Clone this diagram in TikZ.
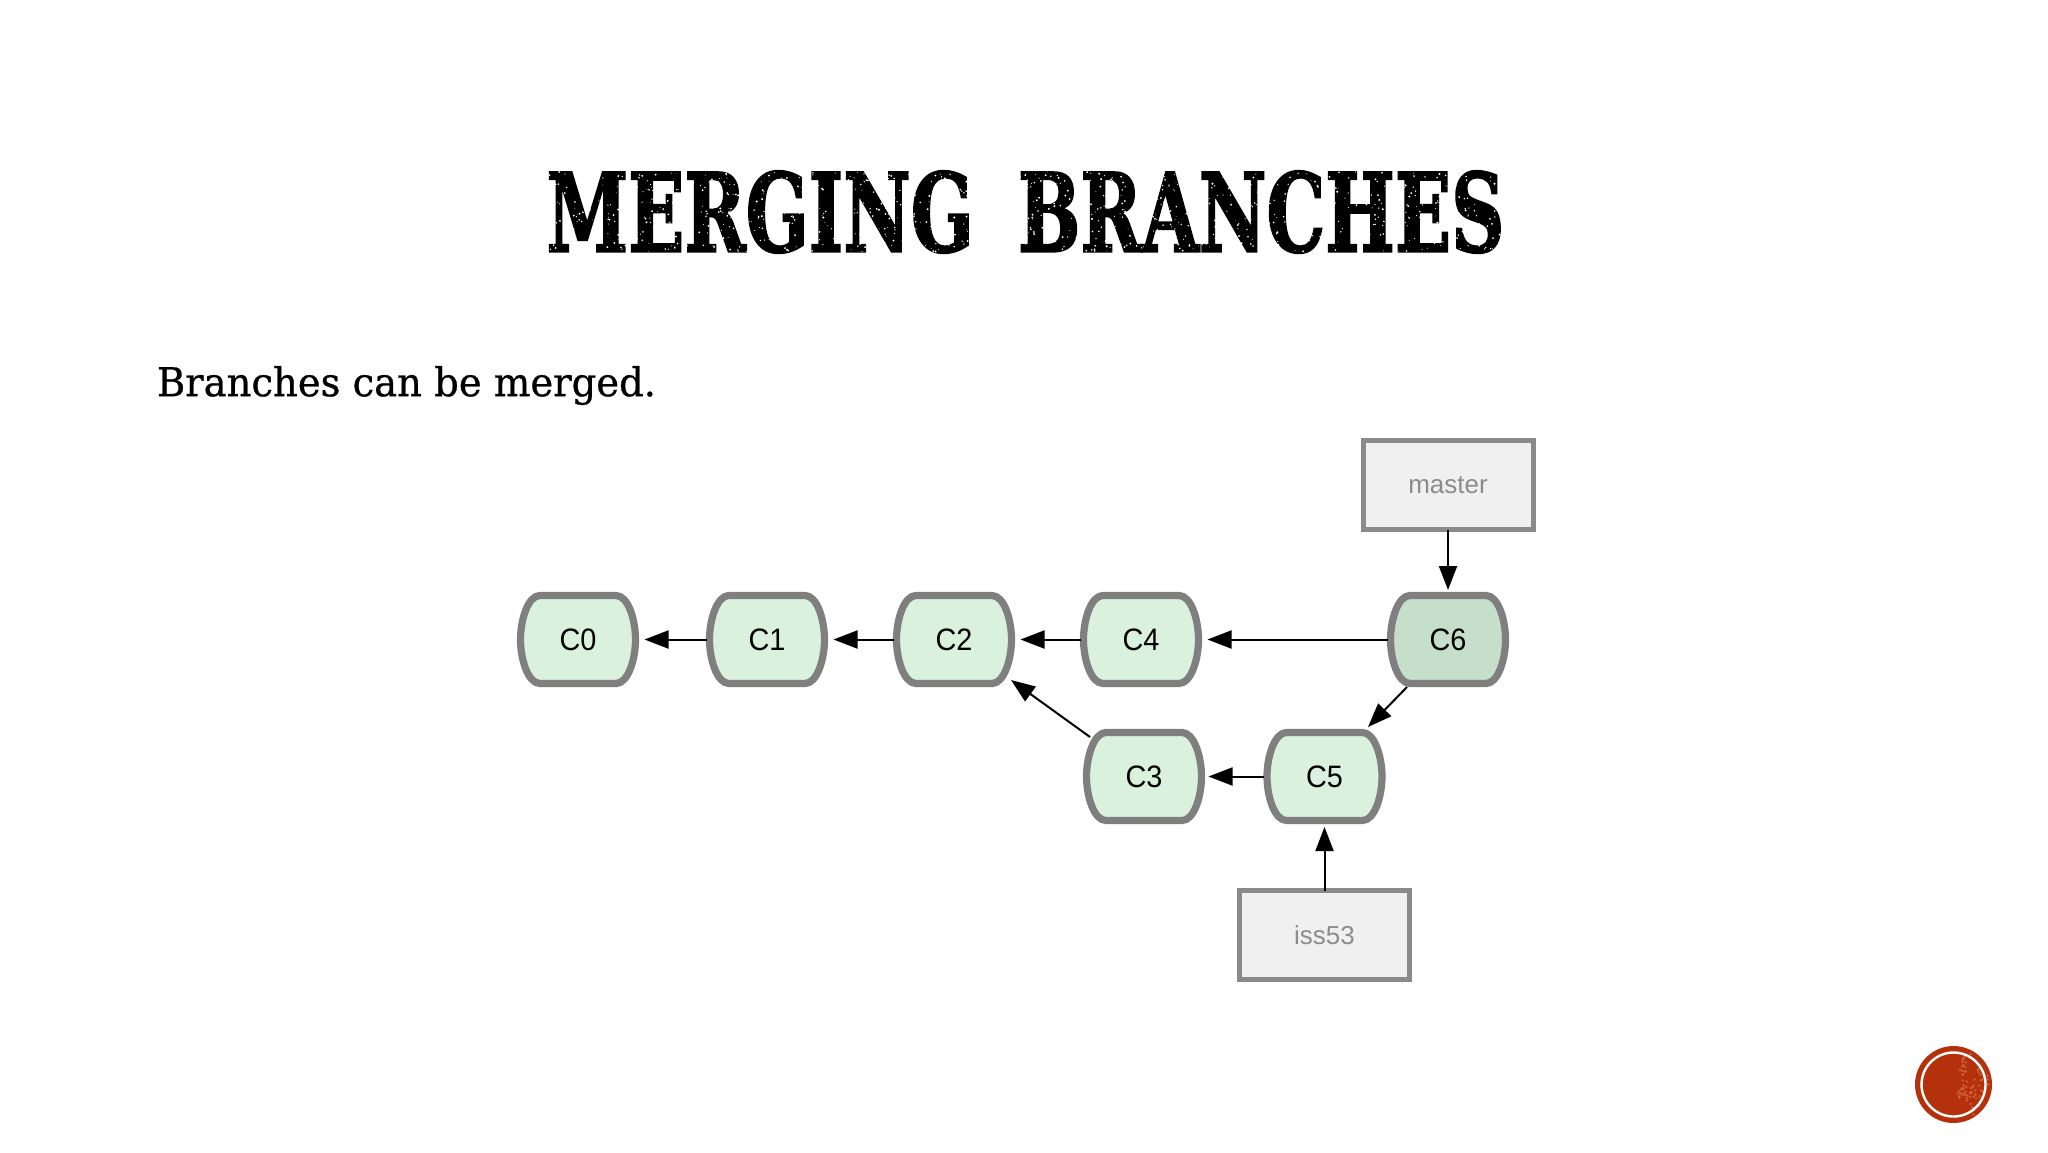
\documentclass[tikz,border=0pt]{standalone}
\usepackage{fontspec}
\setmainfont{Liberation Sans}
\newfontfamily\titlefont[FakeBold=2.2]{DejaVu Serif Bold}
\newfontfamily\bodyfont[FakeBold=0.7]{DejaVu Serif}
\usetikzlibrary{arrows.meta,calc}
\definecolor{edgegray}{HTML}{7F7F7F}
\definecolor{commitfill}{HTML}{DAF2DD}
\definecolor{mergefill}{HTML}{C5DFCB}
\definecolor{boxfill}{HTML}{F0F0F0}
\definecolor{boxedge}{HTML}{8A8A8A}
\definecolor{boxtext}{HTML}{8C8C8C}
\definecolor{badgered}{HTML}{B5310C}
\definecolor{badgespeck}{HTML}{CF6238}
\tikzset{
  barrel/.style={draw=edgegray,line width=3.6pt,line join=round},
  commitlabel/.style={inner sep=0pt,outer sep=0pt,minimum width=60.5pt,minimum height=47.5pt,text=black,font=\fontsize{15.5}{18}\selectfont},
  branchbox/.style={rectangle,draw=boxedge,fill=boxfill,line width=2.5pt,inner sep=0pt,outer sep=0pt,minimum width=85pt,minimum height=44.5pt,text=boxtext,font=\fontsize{13}{16}\selectfont},
  link/.style={draw=black,line width=1pt,-{Triangle[length=12pt,width=9pt]}},
}
\newcommand\commitnode[5]{%
  \path[barrel,fill=#4,shift={(#2,#3)}] (-38,-44) -- (38,-44)
    .. controls (50,-44) and (57.5,-20) .. (57.5,0)
    .. controls (57.5,20) and (50,44) .. (38,44) -- (-38,44)
    .. controls (-50,44) and (-57.5,20) .. (-57.5,0)
    .. controls (-57.5,-20) and (-50,-44) .. (-38,-44) -- cycle;
  \node[commitlabel] (#1) at (#2,#3) {\scalebox{.93}[1]{#5}};
}
\begin{document}
\begin{tikzpicture}[x=0.5pt,y=-0.5pt]
\useasboundingbox[fill=white] (0,0) rectangle (2048,1152);
% title
\node[inner sep=0pt] (title) at (1025.5,212) {\resizebox*{479pt}{41pt}{\titlefont MERGING\hspace{.6em}BRANCHES}};
\pgfmathsetseed{4217}
\foreach \i in {1,...,1300}{
  \pgfmathsetmacro{\sx}{547+958*rnd}
  \pgfmathsetmacro{\sy}{172+80*rnd}
  \pgfmathsetmacro{\sr}{0.4+0.7*rnd}
  \fill[white] (\sx,\sy) circle[radius=\sr];
}
% body text
\node[inner sep=0pt] (body) at (406.5,385.5) {\resizebox*{249.5pt}{19.5pt}{\bodyfont Branches can be merged.}};
% commits
\commitnode{c0}{578}{639.5}{commitfill}{C0}
\commitnode{c1}{767}{639.5}{commitfill}{C1}
\commitnode{c2}{954}{639.5}{commitfill}{C2}
\commitnode{c4}{1141}{639.5}{commitfill}{C4}
\commitnode{c6}{1448}{639.5}{mergefill}{C6}
\commitnode{c3}{1144}{776.5}{commitfill}{C3}
\commitnode{c5}{1324.5}{776.5}{commitfill}{C5}
% branches
\node[branchbox] (master) at (1448,485) {master};
\node[branchbox] (iss53) at (1324.5,935) {iss53};
% connectors
\draw[link,shorten >=3pt] (c1.west) -- (c0.east);
\draw[link,shorten >=3pt] (c2.west) -- (c1.east);
\draw[link,shorten >=3pt] (c4.west) -- (c2.east);
\draw[link,shorten >=3pt] (c6.west) -- (c4.east);
\draw[link,shorten >=2pt] (c5.west) -- (c3.east);
\draw[link,shorten >=1pt] (master.south) -- (c6.north);
\draw[link,shorten >=1.5pt] (iss53.north) -- (c5.south);
\draw[link] ($(c6.south west)+(19.5,0)$) -- ($(c5.north east)+(-17,-2)$);
\draw[link] ($(c3.north west)+(6.5,8)$) -- ($(c2.south east)+(-3.5,-7)$);
% badge
\fill[badgered] (1953.5,1084.5) circle[radius=38.5];
\pgfmathsetseed{77}
\foreach \i in {1,...,70}{
  \pgfmathsetmacro{\ang}{-70+140*rnd}
  \pgfmathsetmacro{\rad}{8+28*rnd}
  \fill[badgespeck] ($(1953.5,1084.5)+(\ang:\rad)$) circle[radius=1.3];
}
\draw[white,line width=1.2pt] (1953.5,1084.5) circle[radius=32];
\end{tikzpicture}
\end{document}
